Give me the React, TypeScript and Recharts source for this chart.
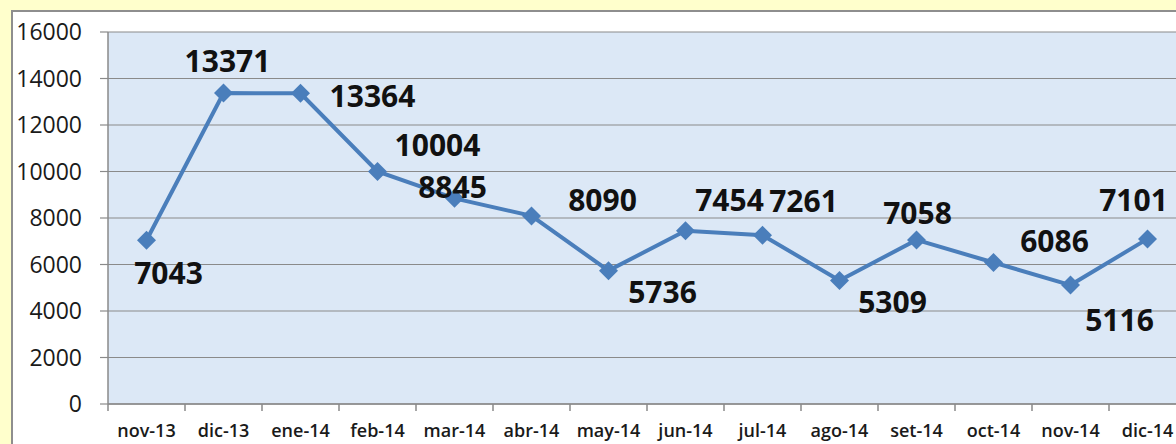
import { LineChart, Line, XAxis, YAxis, CartesianGrid, LabelList } from "recharts";

const MONTHS = [
  "nov-13", "dic-13", "ene-14", "feb-14", "mar-14", "abr-14", "may-14",
  "jun-14", "jul-14", "ago-14", "set-14", "oct-14", "nov-14", "dic-14",
];
const VALUES = [7043, 13371, 13364, 10004, 8845, 8090, 5736, 7454, 7261, 5309, 7058, 6086, 5116, 7101];
const Y_TICKS = [0, 2000, 4000, 6000, 8000, 10000, 12000, 14000, 16000];

// where each value label sits relative to its marker (dx, dy of the text centre)
const LABEL_OFFSETS: [number, number][] = [
  [22, 32], [4, -33], [72, 2], [60, -27], [-2, -12], [71, -16], [54, 21],
  [44, -31], [41, -35], [53, 21], [1, -27], [61, -22], [49, 34], [-14, -39],
];

const data = MONTHS.map((m, i) => ({ month: m, value: VALUES[i] }));

const PLOT_W = 1078;
const HALF_BAND = PLOT_W / MONTHS.length / 2;
const FONT = "'Open Sans', 'DejaVu Sans', sans-serif";

function Diamond(props: any) {
  const { cx, cy, index } = props;
  if (cx == null || cy == null) return null;
  const r = 9.5;
  return (
    <polygon
      key={`d-${index}`}
      points={`${cx},${cy - r} ${cx + r},${cy} ${cx},${cy + r} ${cx - r},${cy}`}
      fill="#4A7EBB"
    />
  );
}

function XTick(props: any) {
  const { x, y, payload } = props;
  return (
    <g>
      <line x1={x - HALF_BAND} y1={y} x2={x - HALF_BAND} y2={y + 7} stroke="#8A8A8A" strokeWidth={1.5} />
      <text
        x={x}
        y={y + 28}
        textAnchor="middle"
        dominantBaseline="middle"
        fontFamily={FONT}
        fontSize={18}
        fontWeight={600}
        fill="#1a1a1a"
      >
        {payload.value}
      </text>
    </g>
  );
}

function ValueLabel(props: any) {
  const { x, y, value, index } = props;
  const [dx, dy] = LABEL_OFFSETS[index] || [0, -20];
  return (
    <text
      x={x + dx}
      y={y + dy}
      textAnchor="middle"
      dominantBaseline="central"
      fontFamily={FONT}
      fontSize={30}
      fontWeight={700}
      fill="#111"
    >
      {value}
    </text>
  );
}

export default function App() {
  return (
    <div
      style={{
        position: "absolute",
        left: 0,
        top: 0,
        width: 1176,
        height: 444,
        overflow: "hidden",
        background: "#FFFFCC",
      }}
    >
      <div
        style={{
          position: "absolute",
          left: 11,
          top: 10,
          width: 1220,
          height: 470,
          background: "#fff",
          borderTop: "2px solid #8E8E8E",
          borderLeft: "2px solid #8E8E8E",
        }}
      >
        <LineChart
          width={1183}
          height={432}
          data={data}
          margin={{ top: 20, right: 10, left: 0, bottom: 0 }}
        >
          <CartesianGrid vertical={false} stroke="#8A8A8A" strokeWidth={1.2} fill="#DCE8F6" />
          <XAxis
            dataKey="month"
            scale="band"
            height={40}
            interval={0}
            tickSize={0}
            tickMargin={0}
            tickLine={false}
            axisLine={{ stroke: "#8A8A8A", strokeWidth: 1.5 }}
            tick={<XTick />}
          />
          <YAxis
            width={95}
            domain={[0, 16000]}
            ticks={Y_TICKS}
            interval={0}
            tickSize={8}
            tickMargin={18}
            axisLine={{ stroke: "#8A8A8A", strokeWidth: 1.5 }}
            tickLine={{ stroke: "#8A8A8A", strokeWidth: 1.2 }}
            tick={{ fontFamily: FONT, fontSize: 23, fill: "#1a1a1a" }}
          />
          <Line
            type="linear"
            dataKey="value"
            stroke="#4A7EBB"
            strokeWidth={4}
            dot={<Diamond />}
            activeDot={false}
            isAnimationActive={false}
          >
            <LabelList dataKey="value" content={<ValueLabel />} />
          </Line>
        </LineChart>
      </div>
    </div>
  );
}
